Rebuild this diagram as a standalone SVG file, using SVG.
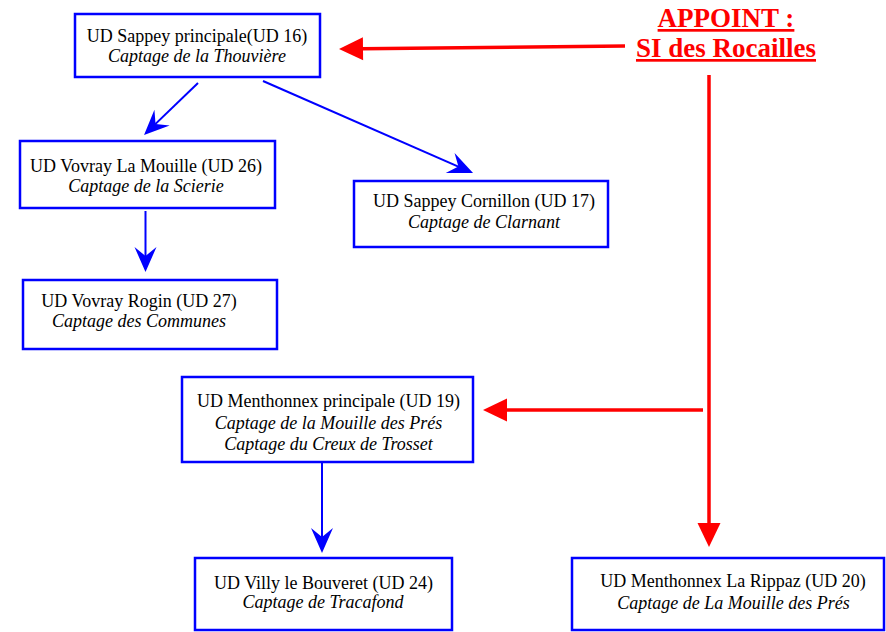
<svg xmlns="http://www.w3.org/2000/svg" width="886" height="632" viewBox="0 0 886 632">
<style>
.box{fill:#fff;stroke:#0000ff;stroke-width:2.5}
.t{font-family:"Liberation Serif","Times New Roman",serif;font-size:18px;fill:#000;text-anchor:middle}
.i{font-style:italic}
.blue{stroke:#0000ff;stroke-width:2;fill:none}
.red{stroke:#ff0000;stroke-width:3.5;fill:none}
.ap{font-family:"Liberation Serif","Times New Roman",serif;font-size:27px;font-weight:bold;fill:#ff0000;text-anchor:middle;text-decoration:underline}
</style>
<defs>
<marker id="bh" markerUnits="userSpaceOnUse" viewBox="-24 -12 28 24" markerWidth="28" markerHeight="24" refX="0" refY="0" orient="auto" overflow="visible">
<path d="M3,0 L-22,-11 L-13,0 L-22,11 Z" fill="#0000ff"/>
</marker>
<marker id="rh" markerUnits="userSpaceOnUse" viewBox="-1 -12 27 24" markerWidth="27" markerHeight="24" refX="1" refY="0" orient="auto" overflow="visible">
<path d="M0,-11.5 L24,0 L0,11.5 Z" fill="#ff0000"/>
</marker>
</defs>
<rect width="886" height="632" fill="#fff"/>
<g id="connectors">
<line class="blue" x1="198" y1="83" x2="146.2" y2="132.9" marker-end="url(#bh)"/>
<line class="blue" x1="263" y1="81" x2="470.3" y2="171.8" marker-end="url(#bh)"/>
<line class="blue" x1="145.5" y1="211" x2="145.5" y2="269" marker-end="url(#bh)"/>
<line class="blue" x1="322" y1="462" x2="322" y2="550" marker-end="url(#bh)"/>
<line class="red" x1="625" y1="46" x2="362" y2="48.7" marker-end="url(#rh)"/>
<line class="red" x1="709" y1="75" x2="709" y2="524" marker-end="url(#rh)"/>
<line class="red" x1="703" y1="410" x2="506" y2="410" marker-end="url(#rh)"/>
</g>
<g id="appoint">
<text class="ap" x="726" y="27">APPOINT :</text>
<text class="ap" x="726" y="57">SI des Rocailles</text>
</g>
<g id="ud16">
<rect class="box" x="75" y="14" width="245" height="63"/>
<text class="t" x="197" y="42">UD Sappey principale(UD 16)</text>
<text class="t i" x="197" y="62">Captage de la Thouvière</text>
</g>
<g id="ud26">
<rect class="box" x="20" y="141" width="255" height="67"/>
<text class="t" x="146" y="172">UD Vovray La Mouille (UD 26)</text>
<text class="t i" x="146" y="192">Captage de la Scierie</text>
</g>
<g id="ud17">
<rect class="box" x="354" y="181" width="254" height="66"/>
<text class="t" x="484" y="207">UD Sappey Cornillon (UD 17)</text>
<text class="t i" x="484" y="228">Captage de Clarnant</text>
</g>
<g id="ud27">
<rect class="box" x="23" y="280" width="254" height="69"/>
<text class="t" x="139" y="307">UD Vovray Rogin (UD 27)</text>
<text class="t i" x="139" y="327">Captage des Communes</text>
</g>
<g id="ud19">
<rect class="box" x="182" y="377" width="291" height="85"/>
<text class="t" x="328.5" y="407">UD Menthonnex principale (UD 19)</text>
<text class="t i" x="328.5" y="428.5">Captage de la Mouille des Prés</text>
<text class="t i" x="328.5" y="450">Captage du Creux de Trosset</text>
</g>
<g id="ud24">
<rect class="box" x="195" y="558" width="257" height="72"/>
<text class="t" x="323.5" y="589">UD Villy le Bouveret (UD 24)</text>
<text class="t i" x="323" y="608">Captage de Tracafond</text>
</g>
<g id="ud20">
<rect class="box" x="572" y="558" width="312" height="72"/>
<text class="t" x="733" y="587">UD Menthonnex La Rippaz (UD 20)</text>
<text class="t i" x="733.5" y="609">Captage de La Mouille des Prés</text>
</g>
</svg>
